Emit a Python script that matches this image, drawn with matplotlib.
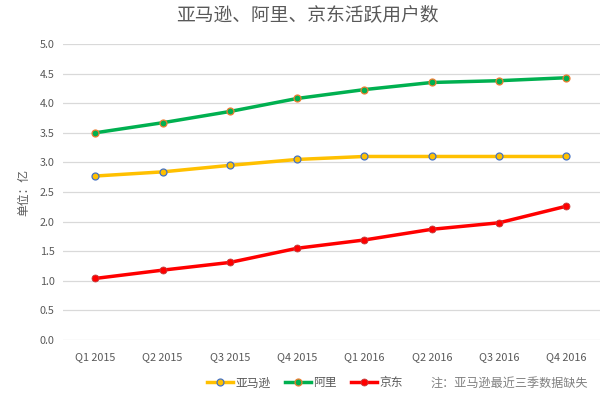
import numpy as np
import matplotlib
matplotlib.use('Agg')
import matplotlib.pyplot as plt

plt.rcParams['font.family'] = ['Noto Sans CJK SC', 'DejaVu Sans']

quarters = ['Q1 2015', 'Q2 2015', 'Q3 2015', 'Q4 2015', 'Q1 2016', 'Q2 2016', 'Q3 2016', 'Q4 2016']
amazon = [2.77, 2.84, 2.95, 3.05, 3.10, 3.10, 3.10, 3.10]
ali = [3.50, 3.67, 3.86, 4.08, 4.23, 4.35, 4.38, 4.43]
jd = [1.04, 1.18, 1.31, 1.55, 1.69, 1.87, 1.98, 2.26]

grey = '#595959'

fig = plt.figure(figsize=(6.14, 3.96), dpi=100)
ax = fig.add_axes([0.1026, 0.1414, 0.8746, 0.7475])

x = np.arange(len(quarters))
ax.plot(x, amazon, color='#ffc000', lw=2.5, marker='o', ms=5, mfc='#ffc000', mec='#4472c4', mew=0.9, label='亚马逊', zorder=3)
ax.plot(x, ali, color='#00b050', lw=2.5, marker='o', ms=5, mfc='#00b050', mec='#ed7d31', mew=0.9, label='阿里', zorder=3)
ax.plot(x, jd, color='#ff0000', lw=2.5, marker='o', ms=5, mfc='#ff0000', mec='#c04040', mew=0.6, label='京东', zorder=3)

ax.set_xlim(-0.48, 7.5)
ax.set_ylim(0, 5.0)
ax.set_yticks(np.arange(0, 5.01, 0.5))
ax.set_yticklabels(['%.1f' % v for v in np.arange(0, 5.01, 0.5)])
ax.set_xticks(x)
ax.set_xticklabels(quarters)
ax.grid(axis='y', color='#d9d9d9', lw=0.9)
ax.set_axisbelow(True)
for s in ax.spines.values():
    s.set_visible(False)
ax.tick_params(length=0, labelsize=7.8, colors=grey, pad=6)
ax.tick_params(axis='x', pad=9)

ax.set_ylabel('单位：亿', color=grey, fontsize=8.5, labelpad=7)
fig.text(0.5, 0.962, '亚马逊、阿里、京东活跃用户数', ha='center', va='center', fontsize=13.5, color=grey)

ax.legend(loc='center', bbox_to_anchor=(0.497, 0.033), bbox_transform=fig.transFigure, ncol=3,
          frameon=False, fontsize=8.5, labelcolor=grey, handlelength=2.2, handletextpad=0.2, columnspacing=1.2)
fig.text(0.958, 0.033, '注：亚马逊最近三季数据缺失', ha='right', va='center', fontsize=8.7, color='#808080')

fig.savefig('out.png', dpi=100)
